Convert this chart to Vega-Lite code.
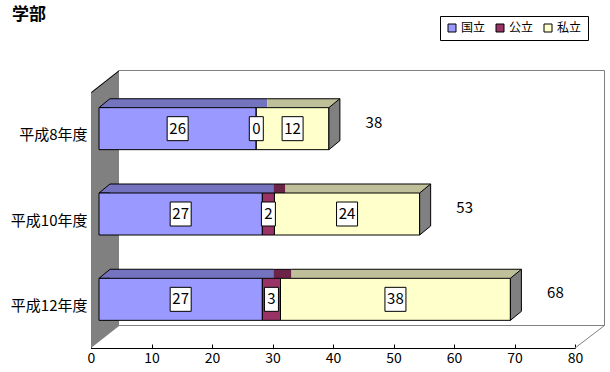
{
  "$schema": "https://vega.github.io/schema/vega-lite/v6.json",
  "width": 484,
  "height": 256,
  "autosize": {"type": "none"},
  "padding": {"left": 91, "top": 92, "right": 35, "bottom": 24},
  "background": "white",
  "config": {
    "font": "Noto Sans CJK JP",
    "view": {"stroke": null},
    "axisX": {"grid": false, "labelFlush": false, "domainColor": "black", "tickColor": "black", "tickSize": -4, "labelPadding": 7, "labelFontSize": 14, "labelColor": "black", "labelFont": "Noto Sans CJK JP"},
    "axisY": {"domainColor": "black", "tickColor": "black", "tickBand": "extent", "tickSize": -5, "labelPadding": 9, "labelFontSize": 15, "labelColor": "black", "labelFont": "Noto Sans CJK JP", "grid": false}
  },
  "title": {"text": "学部", "anchor": "start", "frame": "group", "dx": -79, "dy": 8, "fontSize": 17, "fontWeight": "bold", "color": "black", "offset": 0},
  "data": {"values": [
    {"year": "平成8年度", "type": "国立", "value": 26, "order": 1},
    {"year": "平成8年度", "type": "公立", "value": 0, "order": 2},
    {"year": "平成8年度", "type": "私立", "value": 12, "order": 3},
    {"year": "平成10年度", "type": "国立", "value": 27, "order": 1},
    {"year": "平成10年度", "type": "公立", "value": 2, "order": 2},
    {"year": "平成10年度", "type": "私立", "value": 24, "order": 3},
    {"year": "平成12年度", "type": "国立", "value": 27, "order": 1},
    {"year": "平成12年度", "type": "公立", "value": 3, "order": 2},
    {"year": "平成12年度", "type": "私立", "value": 38, "order": 3}
  ]},
  "transform": [{"stack": "value", "groupby": ["year"], "sort": [{"field": "order", "order": "ascending"}], "as": ["v0", "v1"]}],
  "layer": [
    {
      "transform": [{"aggregate": [{"op": "count", "as": "n"}]}],
      "mark": {"type": "point", "shape": "M0,-128L28,-150L28,106L0,128Z", "size": 4, "filled": true, "color": "#808080", "strokeWidth": 0, "opacity": 1},
      "encoding": {
        "x": {"datum": 0, "type": "quantitative", "scale": {"domain": [0, 80], "nice": false}, "axis": {"title": null, "values": [0, 10, 20, 30, 40, 50, 60, 70, 80]}},
        "y": {"datum": "平成10年度", "type": "nominal", "scale": {"domain": ["平成8年度", "平成10年度", "平成12年度"], "paddingInner": 0, "paddingOuter": 0}, "axis": {"title": null}}
      }
    },
    {
      "transform": [{"aggregate": [{"op": "count", "as": "n"}]}],
      "mark": {"type": "point", "shape": "M0.5,-127.5L28.5,-149.5", "size": 4, "filled": false, "color": "black", "strokeWidth": 1, "opacity": 1},
      "encoding": {
        "x": {"datum": 0, "type": "quantitative", "scale": {"domain": [0, 80], "nice": false}, "axis": {"title": null, "values": [0, 10, 20, 30, 40, 50, 60, 70, 80]}},
        "y": {"datum": "平成10年度", "type": "nominal", "scale": {"domain": ["平成8年度", "平成10年度", "平成12年度"], "paddingInner": 0, "paddingOuter": 0}, "axis": {"title": null}}
      }
    },
    {
      "transform": [{"aggregate": [{"op": "count", "as": "n"}]}],
      "mark": {"type": "point", "shape": "M28,-149.5L513.5,-149.5L513.5,105.5L28,105.5M513.5,105.5L484,128", "size": 4, "filled": false, "color": "#808080", "strokeWidth": 1, "opacity": 1},
      "encoding": {
        "x": {"datum": 0, "type": "quantitative", "scale": {"domain": [0, 80], "nice": false}, "axis": {"title": null, "values": [0, 10, 20, 30, 40, 50, 60, 70, 80]}},
        "y": {"datum": "平成10年度", "type": "nominal", "scale": {"domain": ["平成8年度", "平成10年度", "平成12年度"], "paddingInner": 0, "paddingOuter": 0}, "axis": {"title": null}}
      }
    },
    {
      "mark": {"type": "bar", "height": 9, "xOffset": 19, "x2Offset": 19, "yOffset": -31.5, "strokeWidth": 0},
      "encoding": {
        "x": {"field": "v0", "type": "quantitative", "scale": {"domain": [0, 80], "nice": false}, "axis": {"title": null, "values": [0, 10, 20, 30, 40, 50, 60, 70, 80]}},
        "x2": {"field": "v1"},
        "y": {"field": "year", "type": "nominal", "scale": {"domain": ["平成8年度", "平成10年度", "平成12年度"], "paddingInner": 0, "paddingOuter": 0}, "axis": {"title": null}},
        "fill": {"condition": [{"test": "datum.type === '国立'", "value": "#7373BF"}, {"test": "datum.type === '公立'", "value": "#6B2447"}], "value": "#BFBF99"}
      }
    },
    {
      "mark": {"type": "bar", "height": 1, "xOffset": 19, "x2Offset": 19, "yOffset": -36, "color": "black", "strokeWidth": 0},
      "encoding": {
        "x": {"field": "v0", "type": "quantitative", "scale": {"domain": [0, 80], "nice": false}, "axis": {"title": null, "values": [0, 10, 20, 30, 40, 50, 60, 70, 80]}},
        "x2": {"field": "v1"},
        "y": {"field": "year", "type": "nominal", "scale": {"domain": ["平成8年度", "平成10年度", "平成12年度"], "paddingInner": 0, "paddingOuter": 0}, "axis": {"title": null}}
      }
    },
    {
      "transform": [{"aggregate": [{"op": "sum", "field": "value", "as": "total"}], "groupby": ["year"]}],
      "mark": {"type": "point", "shape": "M19,-27L8,-27L19,-36", "size": 4, "filled": true, "color": "#7373BF", "stroke": "black", "strokeWidth": 1, "opacity": 1},
      "encoding": {
        "x": {"datum": 0, "type": "quantitative", "scale": {"domain": [0, 80], "nice": false}, "axis": {"title": null, "values": [0, 10, 20, 30, 40, 50, 60, 70, 80]}},
        "y": {"field": "year", "type": "nominal", "scale": {"domain": ["平成8年度", "平成10年度", "平成12年度"], "paddingInner": 0, "paddingOuter": 0}, "axis": {"title": null}}
      }
    },
    {
      "mark": {"type": "bar", "height": 42, "xOffset": 8, "x2Offset": 8, "yOffset": -6, "stroke": "black", "strokeWidth": 1},
      "encoding": {
        "x": {"field": "v0", "type": "quantitative", "scale": {"domain": [0, 80], "nice": false}, "axis": {"title": null, "values": [0, 10, 20, 30, 40, 50, 60, 70, 80]}},
        "x2": {"field": "v1"},
        "y": {"field": "year", "type": "nominal", "scale": {"domain": ["平成8年度", "平成10年度", "平成12年度"], "paddingInner": 0, "paddingOuter": 0}, "axis": {"title": null}},
        "color": {"field": "type", "type": "nominal", "scale": {"domain": ["国立", "公立", "私立"], "range": ["#9999FF", "#993366", "#FFFFCC"]},
          "legend": {"orient": "none", "legendX": 349, "legendY": -76, "direction": "horizontal", "title": null, "symbolType": "square", "symbolSize": 64, "symbolStrokeColor": "black", "symbolStrokeWidth": 1, "symbolOpacity": 1, "labelFontSize": 12, "labelFont": "Noto Sans CJK JP", "labelColor": "black", "labelOffset": 3, "columnPadding": 8, "padding": 6, "strokeColor": "black", "fillColor": "white"}}
      }
    },
    {
      "transform": [{"aggregate": [{"op": "sum", "field": "value", "as": "total"}], "groupby": ["year"]}],
      "mark": {"type": "point", "shape": "M8,-27L19,-36L19,6L8,15Z", "size": 4, "filled": true, "color": "#808080", "stroke": "black", "strokeWidth": 1, "opacity": 1},
      "encoding": {
        "x": {"field": "total", "type": "quantitative", "scale": {"domain": [0, 80], "nice": false}, "axis": {"title": null, "values": [0, 10, 20, 30, 40, 50, 60, 70, 80]}},
        "y": {"field": "year", "type": "nominal", "scale": {"domain": ["平成8年度", "平成10年度", "平成12年度"], "paddingInner": 0, "paddingOuter": 0}, "axis": {"title": null}}
      }
    },
    {
      "transform": [{"fold": ["v0", "v1"], "as": ["k", "pos"]}, {"aggregate": [{"op": "mean", "field": "pos", "as": "mid"}], "groupby": ["year", "type", "value"]}],
      "mark": {"type": "point", "size": 4, "filled": true, "color": "white", "stroke": "black", "strokeWidth": 1, "opacity": 1, "xOffset": 8, "yOffset": -6},
      "encoding": {
        "x": {"field": "mid", "type": "quantitative", "scale": {"domain": [0, 80], "nice": false}, "axis": {"title": null, "values": [0, 10, 20, 30, 40, 50, 60, 70, 80]}},
        "y": {"field": "year", "type": "nominal", "scale": {"domain": ["平成8年度", "平成10年度", "平成12年度"], "paddingInner": 0, "paddingOuter": 0}, "axis": {"title": null}},
        "shape": {"condition": {"test": "datum.value >= 10", "value": "M-10.5,-12L10.5,-12L10.5,12L-10.5,12Z"}, "value": "M-7,-12L7,-12L7,12L-7,12Z"}
      }
    },
    {
      "transform": [{"fold": ["v0", "v1"], "as": ["k", "pos"]}, {"aggregate": [{"op": "mean", "field": "pos", "as": "mid"}], "groupby": ["year", "type", "value"]}],
      "mark": {"type": "text", "fontSize": 15, "color": "black", "align": "center", "baseline": "middle", "xOffset": 8, "yOffset": -6},
      "encoding": {
        "x": {"field": "mid", "type": "quantitative", "scale": {"domain": [0, 80], "nice": false}, "axis": {"title": null, "values": [0, 10, 20, 30, 40, 50, 60, 70, 80]}},
        "y": {"field": "year", "type": "nominal", "scale": {"domain": ["平成8年度", "平成10年度", "平成12年度"], "paddingInner": 0, "paddingOuter": 0}, "axis": {"title": null}},
        "text": {"field": "value", "type": "quantitative"}
      }
    },
    {
      "transform": [{"aggregate": [{"op": "sum", "field": "value", "as": "total"}], "groupby": ["year"]}],
      "mark": {"type": "text", "fontSize": 15, "color": "black", "align": "center", "baseline": "middle", "dx": 53, "dy": -12},
      "encoding": {
        "x": {"field": "total", "type": "quantitative", "scale": {"domain": [0, 80], "nice": false}, "axis": {"title": null, "values": [0, 10, 20, 30, 40, 50, 60, 70, 80]}},
        "y": {"field": "year", "type": "nominal", "scale": {"domain": ["平成8年度", "平成10年度", "平成12年度"], "paddingInner": 0, "paddingOuter": 0}, "axis": {"title": null}},
        "text": {"field": "total", "type": "quantitative"}
      }
    }
  ]
}
